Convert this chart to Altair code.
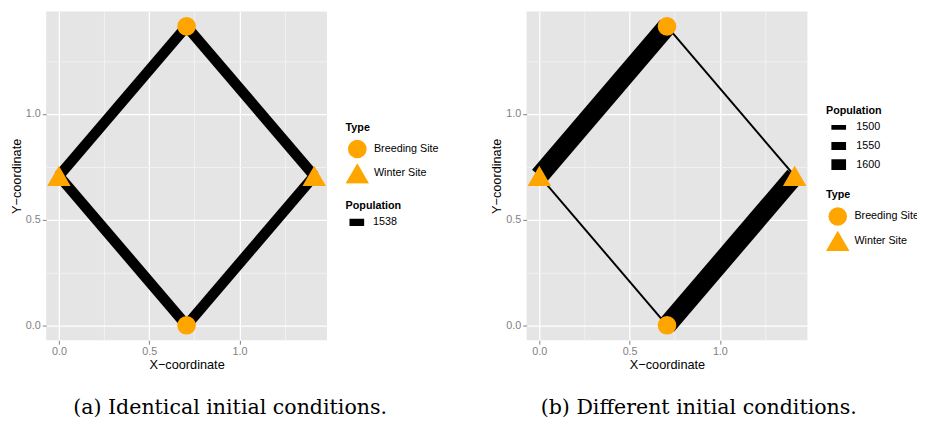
import altair as alt
import pandas as pd

# ---- data ----
site_x = [0.7071, 0.7071, 0.0, 1.4142]
site_y = [0.0, 1.4142, 0.7071, 0.7071]
site_type = ["Breeding Site", "Breeding Site", "Winter Site", "Winter Site"]

seg_from = [2, 1, 3, 0]
seg_to = [1, 3, 0, 2]
pop_a = [1538, 1538, 1538, 1538]
pop_b = [1600, 1476, 1600, 1476]

legend_a = [1538]
legend_b = [1500, 1550, 1600]
pop_domain = [1476, 1600]
type_domain = ["Breeding Site", "Winter Site"]
axis_values = [0, 0.25, 0.5, 0.75, 1.0, 1.25]

caption_a = "(a) Identical initial conditions."
caption_b = "(b) Different initial conditions."

sites = pd.DataFrame({"x": site_x, "y": site_y, "Type": site_type})


def seg_df(pops):
    rows = []
    for i, (a, b, p) in enumerate(zip(seg_from, seg_to, pops)):
        rows.append({"seg": i, "ord": 0, "x": site_x[a], "y": site_y[a], "Population": p})
        rows.append({"seg": i, "ord": 1, "x": site_x[b], "y": site_y[b], "Population": p})
    return pd.DataFrame(rows)


W, H = 287, 336
DOM = [-0.0707, 1.4849]
MINOR = "datum.value % 0.5 != 0"
FONT = "Liberation Sans"


def axis(title):
    return alt.Axis(
        values=axis_values,
        title=title,
        labelExpr="datum.value % 0.5 != 0 ? '' : format(datum.value, '.1f')",
        gridColor={"condition": {"test": MINOR, "value": "#F2F2F2"}, "value": "#FFFFFF"},
        gridWidth={"condition": {"test": MINOR, "value": 1}, "value": 1.3},
        tickOpacity={"condition": {"test": MINOR, "value": 0}, "value": 1},
    )


X = alt.X("x:Q", scale=alt.Scale(domain=DOM, nice=False, zero=False), axis=axis("X\u2212coordinate"))
Y = alt.Y("y:Q", scale=alt.Scale(domain=DOM, nice=False, zero=False), axis=axis("Y\u2212coordinate"))


def panel(pops, legvals, type_y, pop_y, caption, cap_x):
    df = seg_df(pops)
    lines = alt.Chart(df).mark_line(color="black", strokeCap="butt").encode(
        x=X, y=Y, detail="seg:N", order="ord:Q",
        strokeWidth=alt.StrokeWidth("Population:Q",
                                    scale=alt.Scale(domain=pop_domain, range=[2, 19.5]),
                                    legend=None),
    )
    leg = alt.Chart(df).transform_filter("datum.ord == 0").mark_line(
        color="black", strokeCap="butt").encode(
        x=X, y=Y, detail="seg:N",
        strokeWidth=alt.StrokeWidth("Population:Q",
                                    scale=alt.Scale(domain=pop_domain, range=[3.56, 11]),
                                    legend=alt.Legend(values=legvals, orient="none", format="d",
                                                      legendX=306, legendY=pop_y,
                                                      symbolSize=225, symbolType="stroke",
                                                      symbolStrokeColor="black",
                                                      clipHeight=15, rowPadding=4,
                                                      titlePadding=4,
                                                      title="Population")),
    )
    tleg = alt.Legend(orient="none", legendX=306, legendY=type_y, title="Type",
                      clipHeight=21, rowPadding=4, titlePadding=6, symbolStrokeWidth=0)
    pts = alt.Chart(sites).mark_point(filled=True, color="#FFA500", opacity=1).encode(
        x=X, y=Y,
        shape=alt.Shape("Type:N", scale=alt.Scale(domain=type_domain,
                                                 range=["circle", "triangle-up"]), legend=tleg),
        size=alt.Size("Type:N", scale=alt.Scale(type="ordinal", domain=type_domain,
                                               range=[361, 576]), legend=tleg),
    )
    cap = alt.Chart(pd.DataFrame({"caption": [caption]})).mark_text(
        font="DejaVu Serif", fontSize=21, color="black", align="center", baseline="alphabetic"
    ).encode(x=alt.value(cap_x), y=alt.value(411), text="caption:N")
    return alt.layer(lines, leg, pts, cap).resolve_scale(
        strokeWidth="independent").resolve_legend(strokeWidth="independent").properties(
        width=W, height=H)


pa = panel(pop_a, legend_a, 113, 193, caption_a, 188)
pb = panel(pop_b, legend_b, 182, 96, caption_b, 176)

chart = alt.hconcat(pa, pb, spacing=204, bounds="flush").resolve_scale(
    strokeWidth="independent", shape="independent", size="independent"
).resolve_legend(
    strokeWidth="independent", shape="independent", size="independent"
).properties(padding={"top": -25, "left": 2, "right": -3, "bottom": 0}).configure_view(
    fill="#E5E5E5", strokeWidth=0
).configure_axis(
    domain=False, tickColor="#7F7F7F", tickSize=4, tickWidth=1,
    labelColor="#7F7F7F", labelFont=FONT, labelFontSize=11, labelPadding=2,
    titleFont=FONT, titleFontSize=13, titleFontWeight="normal", titleColor="black",
    titlePadding=2,
).configure_legend(
    titleFont=FONT, titleFontSize=11, titleFontWeight="bold", titleColor="black",
    labelFont=FONT, labelFontSize=11, labelColor="black", labelOffset=5,
    titlePadding=6, padding=0,
)

chart.save("out.html", embed_options={"renderer": "svg", "actions": False})
